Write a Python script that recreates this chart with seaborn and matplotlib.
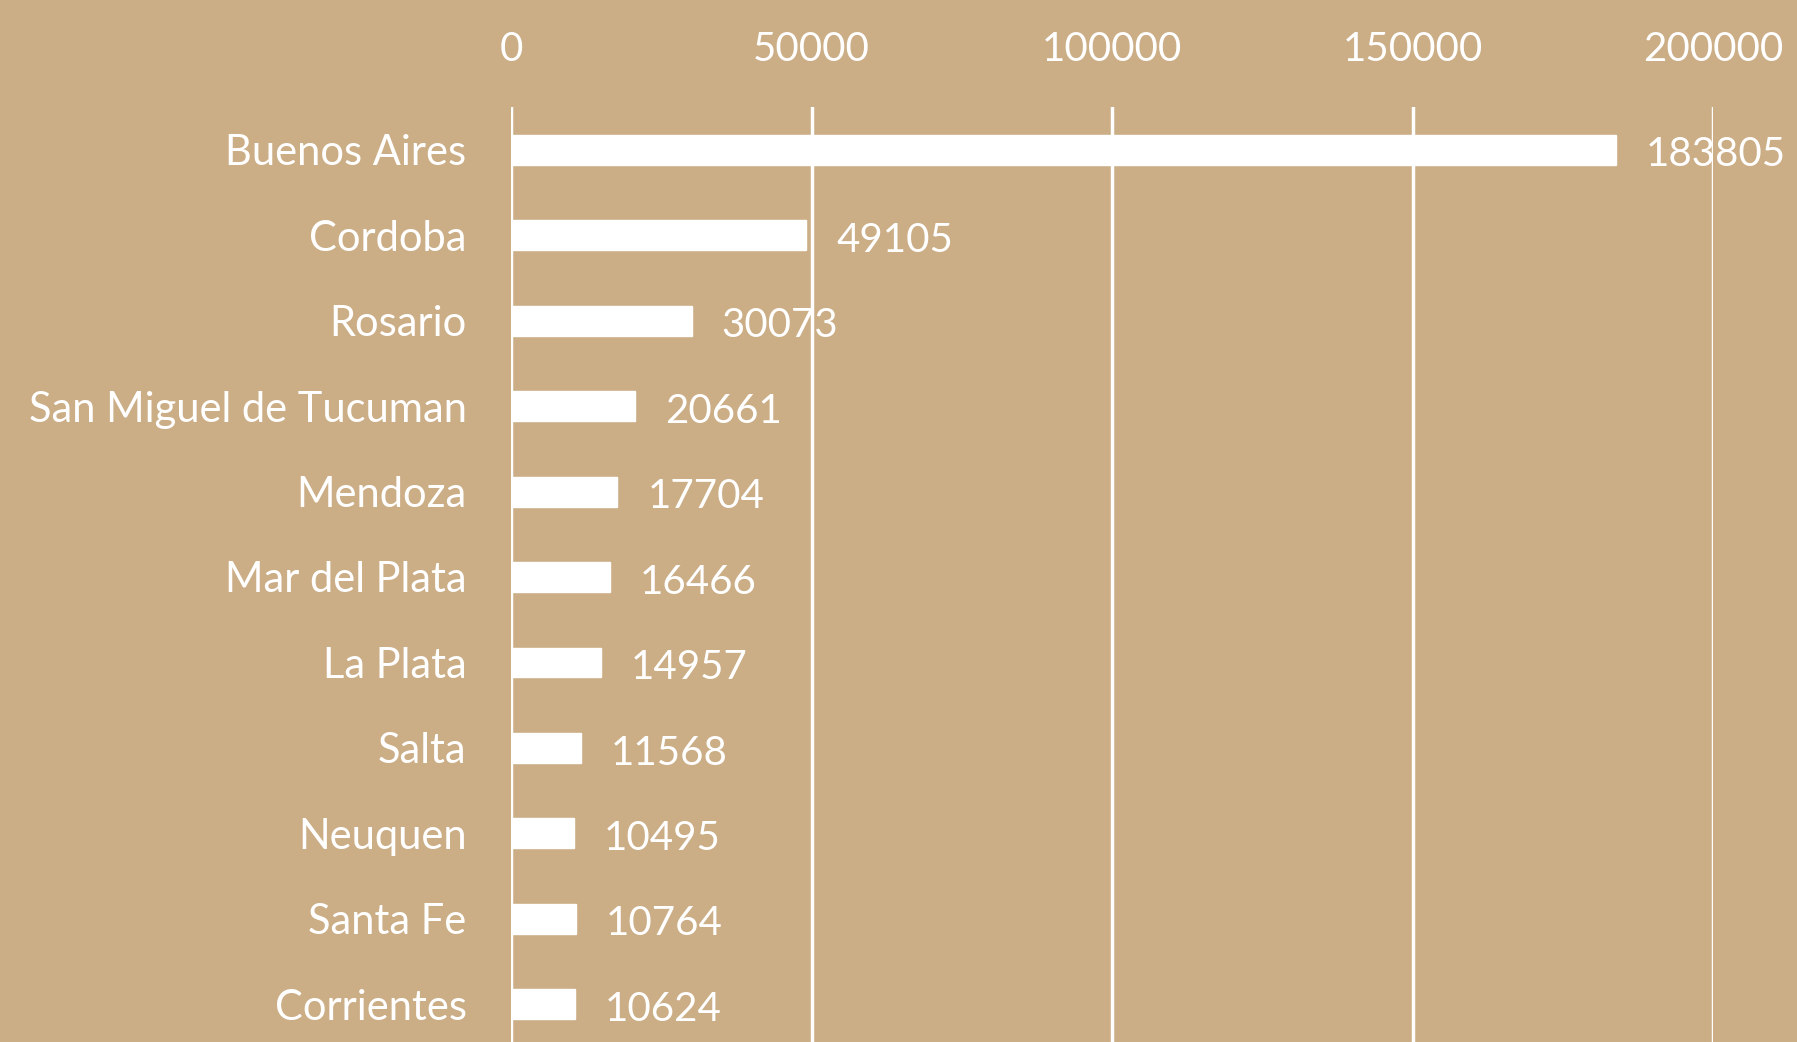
import matplotlib
matplotlib.use("Agg")
import matplotlib.pyplot as plt
import seaborn as sns
import pandas as pd

# dados
ciudades = ["Buenos Aires", "Cordoba", "Rosario", "San Miguel de Tucuman", "Mendoza",
            "Mar del Plata", "La Plata", "Salta", "Neuquen", "Santa Fe", "Corrientes"]
valores = [183805, 49105, 30073, 20661, 17704, 16466, 14957, 11568, 10495, 10764, 10624]
ticks_x = [0, 50000, 100000, 150000, 200000]

fundo = "#CBAD86"
branco = "#FFFFFF"

sns.set_theme(style="white")
plt.rcParams["font.family"] = ["Lato", "DejaVu Sans"]

df = pd.DataFrame({"cidade": ciudades, "valor": valores})

fig = plt.figure(figsize=(17.97, 10.42), dpi=100, facecolor=fundo)
ax = fig.add_axes([511 / 1797, -5 / 1042, (1713 - 511) / 1797, (1042 - 107 + 5) / 1042])
ax.set_facecolor(fundo)

sns.barplot(data=df, y="cidade", x="valor", orient="h", color=branco,
            saturation=1, width=0.35, ax=ax, zorder=3)

ax.set_xlim(0, 200000)
ax.set_xticks(ticks_x)
ax.set_xticklabels([str(t) for t in ticks_x])
ax.xaxis.tick_top()
ax.tick_params(axis="x", length=0, pad=28, labelsize=29, labelcolor=branco)
ax.tick_params(axis="y", length=0, pad=32, labelsize=30, labelcolor=branco)
ax.set_xlabel("")
ax.set_ylabel("")
ax.grid(axis="x", color=branco, linewidth=2.5, zorder=1)
ax.grid(axis="y", visible=False)
for s in ax.spines.values():
    s.set_visible(False)

# rótulos dos valores
for p, v in zip(ax.patches, valores):
    ax.text(p.get_width() + 5000, p.get_y() + p.get_height() / 2 + 0.06, str(v),
            ha="left", va="center", fontsize=29, color=branco, zorder=4)

fig.savefig("out.png", dpi=100, facecolor=fundo)
